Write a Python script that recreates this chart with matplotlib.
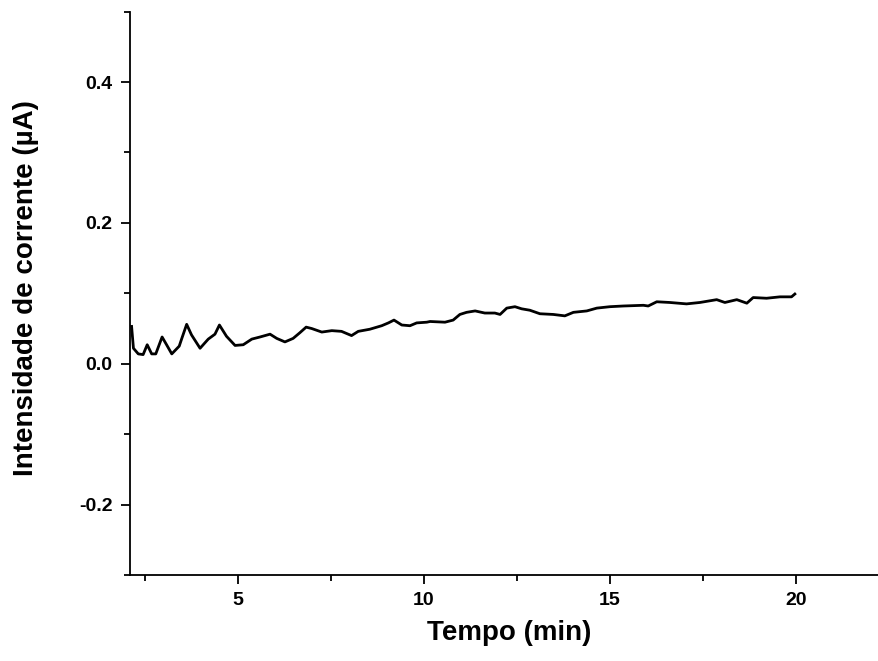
import matplotlib
matplotlib.use("Agg")
import matplotlib.pyplot as plt
from matplotlib.ticker import MultipleLocator

# valores
tempo = [2.15, 2.20, 2.33, 2.46, 2.57, 2.69, 2.80, 2.97, 3.09, 3.23,
         3.43, 3.50, 3.63, 3.76, 3.99, 4.21, 4.39, 4.51, 4.70, 4.93,
         5.15, 5.38, 5.60, 5.87, 6.05, 6.27, 6.49, 6.67, 6.84, 6.99,
         7.26, 7.53, 7.79, 8.06, 8.24, 8.55, 8.87, 9.05, 9.20, 9.41,
         9.63, 9.81, 10.08, 10.17, 10.57, 10.79, 10.97, 11.15, 11.38, 11.64,
         11.91, 12.05, 12.23, 12.45, 12.63, 12.85, 13.12, 13.48, 13.79, 14.02,
         14.38, 14.65, 15.00, 15.36, 15.90, 16.03, 16.26, 16.61, 17.06, 17.42,
         17.87, 18.09, 18.41, 18.68, 18.85, 19.21, 19.57, 19.88, 19.97]
corrente = [0.053, 0.022, 0.014, 0.013, 0.027, 0.014, 0.014, 0.038, 0.027, 0.014,
            0.025, 0.036, 0.056, 0.041, 0.022, 0.035, 0.042, 0.055, 0.039, 0.026,
            0.027, 0.035, 0.038, 0.042, 0.036, 0.031, 0.036, 0.044, 0.052, 0.050,
            0.045, 0.047, 0.046, 0.040, 0.046, 0.049, 0.054, 0.058, 0.062, 0.055,
            0.054, 0.058, 0.059, 0.060, 0.059, 0.062, 0.070, 0.073, 0.075, 0.072,
            0.072, 0.070, 0.079, 0.081, 0.078, 0.076, 0.071, 0.070, 0.068, 0.073,
            0.075, 0.079, 0.081, 0.082, 0.083, 0.082, 0.088, 0.087, 0.085, 0.087,
            0.091, 0.087, 0.091, 0.086, 0.094, 0.093, 0.095, 0.095, 0.099]

xticks = [5, 10, 15, 20]
yticks = [-0.2, 0.0, 0.2, 0.4]

plt.rcParams['font.family'] = ['Liberation Sans', 'DejaVu Sans']
plt.rcParams['font.weight'] = 'bold'

fig = plt.figure(figsize=(8.79, 6.61), dpi=100)
# o eixo x continua alem da borda direita da figura (imagem cortada)
ax = fig.add_axes([0.148, 0.130, 0.8634, 0.8525])

ax.plot(tempo, corrente, color='black', linewidth=2.0)

ax.set_xlim(2.11, 22.5)
ax.set_ylim(-0.3, 0.5)
ax.set_xticks(xticks)
ax.set_yticks(yticks)
ax.set_xticklabels([str(t) for t in xticks])
ax.set_yticklabels(['%.1f' % t for t in yticks])
ax.xaxis.set_minor_locator(MultipleLocator(2.5))
ax.yaxis.set_minor_locator(MultipleLocator(0.1))

ax.spines['top'].set_visible(False)
ax.spines['right'].set_visible(False)
for s in ['left', 'bottom']:
    ax.spines[s].set_linewidth(1.3)

ax.tick_params(which='major', direction='out', length=6.5, width=1.3, labelsize=14)
ax.tick_params(which='minor', direction='out', length=4, width=1.3)
ax.tick_params(axis='x', which='major', pad=6)
ax.tick_params(axis='y', which='major', pad=6)
for lab in ax.get_xticklabels() + ax.get_yticklabels():
    lab.set_fontweight('bold')

ax.set_xlabel('Tempo (min)', fontsize=20, fontweight='bold')
ax.set_ylabel('Intensidade de corrente (µA)', fontsize=20, fontweight='bold')
ax.xaxis.set_label_coords(0.5, -0.08)
ax.yaxis.set_label_coords(-0.12, 0.51)

fig.savefig('out.png', dpi=100)
